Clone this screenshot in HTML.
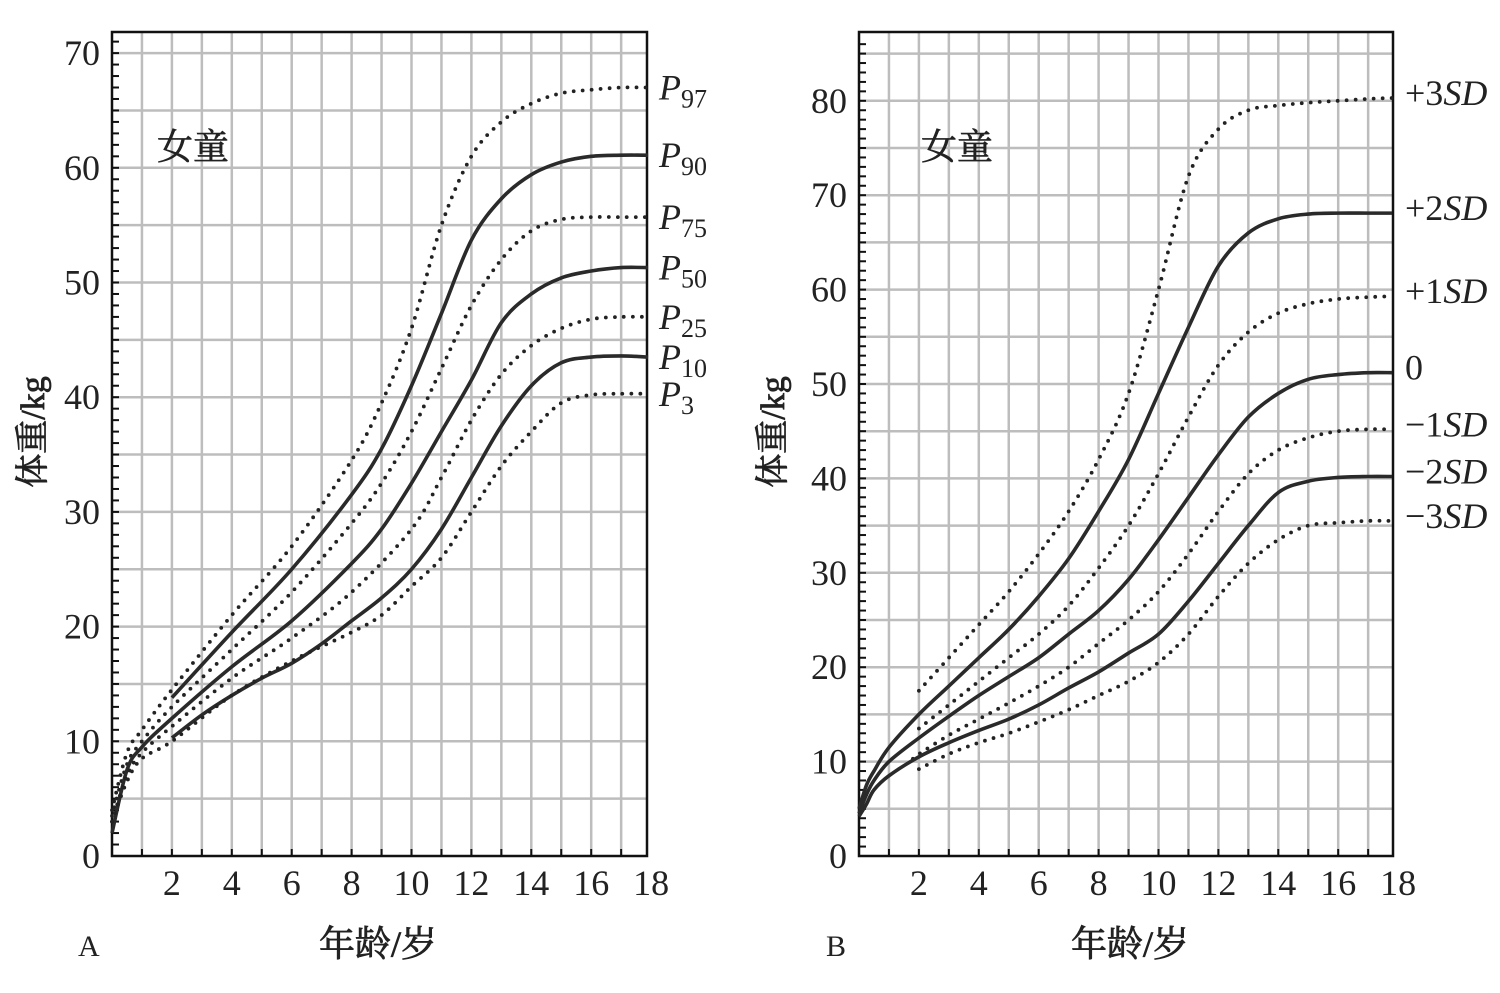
<!DOCTYPE html>
<html><head><meta charset="utf-8"><style>
body{margin:0;background:#fff}
svg{display:block;font-family:"Liberation Serif","Noto Serif CJK SC",serif}
</style></head><body>
<svg id="c" width="1500" height="993" viewBox="0 0 1500 993"></svg>
<script>
const ageTicks=[2,4,6,8,10,12,14,16,18];
const aTicks=[0,10,20,30,40,50,60,70];
const bTicks=[0,10,20,30,40,50,60,70,80];
const aLabels=["P97","P90","P75","P50","P25","P10","P3"];
const aDashed=[true,false,true,false,true,false,true];
const aAges=[
[0,0.5,1,2,4,6,8,9,10,11,12,13,14,15,16,17,17.9],
[2,4,6,8,9,10,11,12,13,14,15,16,17,17.9],
[0,0.5,1,2,4,6,8,9,10,11,12,13,14,15,16,17,17.9],
[0,0.5,1,2,4,6,8,9,10,11,12,13,14,15,16,17,17.9],
[0,0.5,1,2,4,6,8,10,11,12,13,14,15,16,17,17.9],
[2,3,4,5,6,7,8,9,10,11,12,13,14,15,16,17,17.9],
[0,0.5,1,2,4,6,8,9,10,11,12,13,14,15,16,17,17.9]];
const aVals=[
[4,9,11,14.5,21,27,34.5,39.5,46,55,61,64,65.6,66.5,66.8,67,67],
[13.8,19.5,25,31.5,35.5,41,47.3,53.7,57.3,59.4,60.5,61,61.1,61.1],
[3.5,8,10,13,18,23,29,32.5,37,42.5,48,52,54.5,55.5,55.7,55.7,55.7],
[2,7.5,9.5,12,16.5,20.5,25.5,28.5,32.5,37,41.5,46.5,49,50.4,51,51.3,51.3],
[3,7,9,11.3,15.5,19,23,28.5,33,38,42,44.5,46,46.8,47,47],
[10.3,12.3,14,15.5,16.8,18.5,20.5,22.5,25,28.5,33,37.5,41,43,43.5,43.6,43.5],
[3,6.5,8.5,10,14,17,19.5,21,23.5,26,30,34,37,39.5,40.2,40.3,40.3]];
const bLabels=["+3SD","+2SD","+1SD","0","−1SD","−2SD","−3SD"];
const bDashed=[true,false,true,false,true,false,true];
const bAges=[
[2,3,4,5,6,7,8,9,10,11,12,13,14,15,16,17,17.8],
[0,0.25,0.5,1,2,3,4,5,6,7,8,9,10,11,12,13,14,15,16,17,17.8],
[2,3,4,5,6,7,8,9,10,11,12,13,14,15,16,17,17.8],
[0,0.25,0.5,1,2,3,4,5,6,7,8,9,10,11,12,13,14,15,16,17,17.8],
[1.8,2,3,4,5,6,7,8,9,10,11,12,13,14,15,16,17,17.8],
[0,0.25,0.5,1,2,3,4,5,6,7,8,9,10,11,12,13,14,15,16,17,17.8],
[2,3,4,5,6,7,8,9,10,11,12,13,14,15,16,17,17.8]];
const bVals=[
[17.5,21,24.5,28,32,36.5,42,49,60,72,77,79,79.5,79.8,80,80.2,80.3],
[5,7.5,9,11.5,15,18,21,24,27.5,31.5,36.5,42,49,56,62.5,66,67.5,68,68.1,68.1,68.1],
[13.5,16,18.5,21,23.5,26.5,30.5,35,40.5,46.5,52,55.5,57.5,58.5,59,59.2,59.3],
[4.5,6.5,8,10,12.5,14.8,17,19,21,23.5,26,29.3,33.5,38,42.5,46.5,49,50.5,51,51.2,51.2],
[10.3,10.8,12.8,14.5,16.2,18,20,22.5,25,28,32,36.5,40.5,43,44.3,45,45.2,45.2],
[4.2,5.5,7,8.5,10.5,12,13.3,14.5,16,17.8,19.5,21.5,23.5,27,31,35,38.5,39.7,40.1,40.2,40.2],
[9.2,10.8,12,13,14.2,15.5,17,18.5,20.5,23.5,27.5,31,33.5,35,35.3,35.5,35.5]];

const NS="http://www.w3.org/2000/svg";
const svg=document.getElementById('c');
function mk(tag,attrs,parent,text){const e=document.createElementNS(NS,tag);for(const k in attrs)e.setAttribute(k,attrs[k]);if(text!==undefined)e.textContent=text;(parent||svg).appendChild(e);return e;}
function path(pts){let d="M"+pts[0][0]+","+pts[0][1];for(let i=0;i<pts.length-1;i++){const p0=pts[i-1]||pts[i],p1=pts[i],p2=pts[i+1],p3=pts[i+2]||p2;
d+=" C"+(p1[0]+(p2[0]-p0[0])/6)+","+(p1[1]+(p2[1]-p0[1])/6)+" "+(p2[0]-(p3[0]-p1[0])/6)+","+(p2[1]-(p3[1]-p1[1])/6)+" "+p2[0]+","+p2[1];}return d;}

function panel(o){
 const X=a=>o.x0+a*o.px, Y=v=>856-v*o.py;
 const g=mk('g',{}, svg);
 
 
 const right=o.right, top=32;
 const grid=mk('g',{stroke:'#bdbdbd','stroke-width':2.5},g);
 
 
 for(let a=1;X(a)<right-3;a++)mk('line',{x1:X(a),x2:X(a),y1:top,y2:856},grid);
 for(let v=5;Y(v)>top+3;v+=5)mk('line',{x1:o.x0,x2:right,y1:Y(v),y2:Y(v)},grid);
 const ax=mk('g',{stroke:'#111','stroke-width':2},g);
 for(let v=1;Y(v)>top+3;v++)mk('line',{x1:o.x0,x2:o.x0+7,y1:Y(v),y2:Y(v)},ax);
 for(let a=1;X(a)<right-3;a++)mk('line',{x1:X(a),x2:X(a),y1:856,y2:849},ax);
 const fr=mk('rect',{x:o.x0,y:top,width:right-o.x0,height:856-top,fill:'none',stroke:'#111','stroke-width':2.5},g);
 
 
 o.yticks.forEach(v=>{const t=mk('text',{x:o.x0-12,y:Y(v)+12,'text-anchor':'end','font-size':36,fill:'#222'},g,String(v));
  
  });
 ageTicks.forEach(a=>{const t=mk('text',{x:X(a),y:895,'text-anchor':'middle','font-size':36,fill:'#222'},g,String(a));
  
  });
 o.ages.forEach((ag,i)=>{
  const pts=ag.map((a,j)=>[X(a),Y(o.vals[i][j])]);
  const at=o.dashed[i]?{fill:'none',stroke:'#222','stroke-width':3.8,'stroke-dasharray':'0 9','stroke-linecap':'round'}:{fill:'none',stroke:'#2a2a2a','stroke-width':3.6};
  at.d=path(pts);
  const p=mk('path',at,g);
  
  
 });
 const t1=mk('text',{x:o.sexX,y:159,'font-size':36,fill:'#222',stroke:'#222','stroke-width':0.6},g,'女童');
 
 
 const yt=mk('text',{transform:'translate('+o.ytx+',432) rotate(-90)','text-anchor':'middle','font-size':34,fill:'#222',stroke:'#222','stroke-width':0.8},g,'体重/kg');
 
 
 const xt=mk('text',{x:o.xtx,y:956,'text-anchor':'middle','font-size':36,fill:'#222',stroke:'#222','stroke-width':0.8},g,'年龄/岁');
 
 
 const pl=mk('text',{x:o.letterX,y:956,'font-size':30,fill:'#222'},g,o.letter);
 
 
 o.labels.forEach((l,i)=>{
  const ag=o.ages[i],v=o.vals[i][ag.length-1];
  const t=mk('text',{x:right+12,y:Y(v)+12+o.lofs,'font-size':36,fill:'#222'},g);
  
  
  if(l[0]==='P'){mk('tspan',{'font-style':'italic'},t,'P');mk('tspan',{'font-size':26,dy:8},t,l.slice(1));}
  else if(l==='0'){t.textContent='0';}
  else{mk('tspan',{},t,l.slice(0,2));mk('tspan',{'font-style':'italic'},t,'SD');}
 });
}
panel({name:'panel-a',x0:112,px:29.95,py:11.47,right:647,yticks:aTicks,ages:aAges,vals:aVals,dashed:aDashed,labels:aLabels,sexX:157,ytx:44,xtx:378,letter:'A',letterX:78,lofs:0});
panel({name:'panel-b',x0:859,px:29.95,py:9.44,right:1393,yticks:bTicks,ages:bAges,vals:bVals,dashed:bDashed,labels:bLabels,sexX:921,ytx:784,xtx:1130,letter:'B',letterX:826,lofs:-5});
</script>
</body></html>
